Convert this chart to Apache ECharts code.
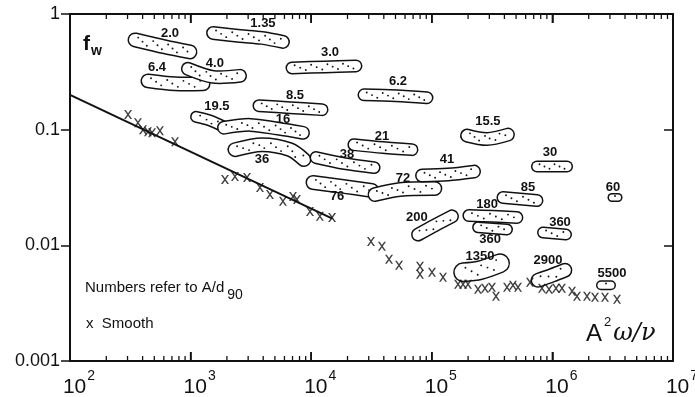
<!DOCTYPE html>
<html>
<head>
<meta charset="utf-8">
<script src="https://cdn.jsdelivr.net/npm/echarts@6/dist/echarts.min.js"></script>
<style>
  html, body { margin: 0; padding: 0; background: #fff; }
  #chart { width: 695px; height: 397px; }
</style>
</head>
<body>
<div id="chart"></div>
<script>
// smooth-bed points (x)
const crossX = [303, 366, 403, 443, 479, 557, 743, 1928, 2333, 2936, 3760, 4550, 5830, 7060, 7620, 9770, 11800, 14900,
  31300, 38600, 44200, 53500, 79800, 79800, 100400, 123900, 164900, 181500, 199600, 241500, 276000, 315500, 340600,
  420300, 471000, 518600, 651900, 819800, 937300, 1071000, 1201000, 1455000, 1600000, 1936000, 2256000, 2730000, 3435000];
const crossY = [0.135, 0.115, 0.100, 0.096, 0.094, 0.098, 0.0788, 0.0371, 0.0394, 0.0386, 0.0316, 0.0275, 0.0240, 0.0265, 0.0249, 0.0196, 0.0178, 0.0174,
  0.0108, 0.0098, 0.00757, 0.00672, 0.00659, 0.00562, 0.00585, 0.00530, 0.00461, 0.00461, 0.00461, 0.00418, 0.00426, 0.00434, 0.00363,
  0.00434, 0.00452, 0.00434, 0.00480, 0.00426, 0.00418, 0.00426, 0.00426, 0.00401, 0.00363, 0.00363, 0.00356, 0.00356, 0.00342];

// laminar line
const lineX = [100, 15000];
const lineY = [0.2, 0.017];

// rough-bed regions: spine points, labelled by A/d90
const blobNames = ['2.0', '1.35', '6.4', '4.0', '3.0', '6.2', '8.5', '19.5', '16', '36', '38', '21', '76', '72', '41',
  '15.5', '30', '85', '60', '200', '180', '360', '360', '1350', '2900', '5500'];
const blobXs = [
  [346, 614, 988],
  [1535, 2570, 3910, 5830],
  [443, 743, 1268],
  [950, 1535, 2570],
  [6930, 13000, 23500],
  [27400, 50500, 91200],
  [3690, 6670, 12300],
  [1110, 1450, 1890],
  [1890, 3110, 5310, 8550],
  [2333, 3910, 6670, 8710],
  [10970, 19000, 33200],
  [22600, 39400, 68500],
  [10350, 18400, 31900],
  [33800, 54500, 106000],
  [83000, 136000, 224000],
  [196000, 287000, 428000],
  [745000, 1322000],
  [389000, 745000],
  [3120000, 3500000],
  [76900, 106000, 147000],
  [203000, 321000, 508000],
  [242000, 420000],
  [836000, 1297000],
  [182000, 251000, 368000],
  [760000, 993000, 1270000],
  [2530000, 3060000]
];
const blobYs = [
  [0.597, 0.519, 0.470],
  [0.686, 0.646, 0.621, 0.574],
  [0.264, 0.249, 0.249],
  [0.336, 0.286, 0.292],
  [0.342, 0.349, 0.356],
  [0.200, 0.196, 0.189],
  [0.161, 0.155, 0.149],
  [0.129, 0.120, 0.106],
  [0.104, 0.110, 0.102, 0.094],
  [0.0672, 0.0742, 0.0672, 0.0551],
  [0.0574, 0.0509, 0.0470],
  [0.0742, 0.0700, 0.0672],
  [0.0349, 0.0323, 0.0298],
  [0.0275, 0.0304, 0.0310],
  [0.0401, 0.0409, 0.0434],
  [0.0888, 0.0830, 0.0906],
  [0.0480, 0.0480],
  [0.0259, 0.0244],
  [0.0259, 0.0259],
  [0.0124, 0.0149, 0.0178],
  [0.0181, 0.0178, 0.0174],
  [0.0143, 0.0137],
  [0.0129, 0.0124],
  [0.00585, 0.00609, 0.00700],
  [0.00499, 0.00551, 0.00609],
  [0.00452, 0.00452]
];
const labelX = [674, 3980, 526, 1590, 14300, 52500, 7340, 1650, 5830, 3910, 19800, 38600, 16400, 57700, 133700,
  292000, 955000, 628000, 3180000, 75300, 287000, 304000, 1156000, 251000, 920000, 3120000];
const labelY = [0.686, 0.836, 0.342, 0.371, 0.470, 0.259, 0.196, 0.158, 0.122, 0.0551, 0.0609, 0.0871, 0.0265, 0.0378, 0.0551,
  0.117, 0.0633, 0.0316, 0.0316, 0.0174, 0.0226, 0.0113, 0.0158, 0.00804, 0.00743, 0.00574];

// x-axis tick values: decades and 2..9 inside each decade
const majorTicks = [1e2, 1e3, 1e4, 1e5, 1e6, 1e7];
const minorTicks = [];
for (let e = 2; e < 7; e++) {
  for (let k = 2; k <= 9; k++) minorTicks.push(k * Math.pow(10, e));
}

const blobThick = [12, 11, 12, 11, 10, 10, 10, 9, 11, 12, 10, 10, 12, 12, 11, 11, 9, 10, 6, 11, 10, 9, 9, 17, 12, 7];
const INK = '#111';
const FONT = '"Liberation Sans", Arial, sans-serif';

const chart = echarts.init(document.getElementById('chart'));

function renderBlob(params, api) {
  const i = api.value(2);
  const pts = blobXs[i].map((x, j) => api.coord([x, blobYs[i][j]]));
  const w = blobThick[i];
  const children = [
    { type: 'polyline', shape: { points: pts, smooth: 0.3 },
      style: { stroke: INK, lineWidth: w + 3, fill: null, lineCap: 'round', lineJoin: 'round' } },
    { type: 'polyline', shape: { points: pts, smooth: 0.3 },
      style: { stroke: '#fff', lineWidth: w, fill: null, lineCap: 'round', lineJoin: 'round' } }
  ];
  // stipple
  let k = 0;
  for (let s = 0; s < pts.length - 1; s++) {
    const [x0, y0] = pts[s];
    const [x1, y1] = pts[s + 1];
    const len = Math.hypot(x1 - x0, y1 - y0) || 1;
    const n = Math.max(1, Math.floor(len / 5));
    const nx = -(y1 - y0) / len, ny = (x1 - x0) / len;
    for (let t = 0; t < n; t++) {
      const f = (t + 0.5) / n;
      const off = ((k % 3) - 1) * w * 0.25;
      children.push({ type: 'circle',
        shape: { cx: x0 + (x1 - x0) * f + nx * off, cy: y0 + (y1 - y0) * f + ny * off, r: 0.95 },
        style: { fill: INK } });
      k++;
    }
  }
  const lp = api.coord([labelX[i], labelY[i]]);
  children.push({ type: 'text',
    style: { text: blobNames[i], x: lp[0], y: lp[1], align: 'center', verticalAlign: 'middle',
      fontSize: 13, fontWeight: 'bold', fontFamily: FONT, fill: INK } });
  return { type: 'group', children };
}

const yFmt = (v) => {
  const e = Math.round(Math.log10(v));
  return e === 0 ? '1' : Math.pow(10, e).toFixed(-e);
};
const xFmt = (v) => '{b|10}{s|' + Math.round(Math.log10(v)) + '}';

function xAxisCfg(pos, label) {
  return {
    type: 'log', position: pos, min: 100, max: 1e7, interval: 1,
    axisLine: { show: true, onZero: false, lineStyle: { color: INK, width: 2 } },
    axisTick: { show: true, inside: true, length: 9, lineStyle: { color: INK, width: 1.5 } },
    splitLine: { show: false },
    axisLabel: label
  };
}
function yAxisCfg(pos, inside, label) {
  return {
    type: 'log', position: pos, min: 0.001, max: 1, interval: 1,
    axisLine: { show: true, onZero: false, lineStyle: { color: INK, width: 2 } },
    axisTick: { show: true, inside: inside, length: 9, lineStyle: { color: INK, width: 1.5 } },
    splitLine: { show: false },
    axisLabel: label
  };
}

const texts = [
  { type: 'text', left: 83, top: 34, style: {
    text: '{f|f}{w|w}', rich: {
      f: { fontSize: 21, fontFamily: FONT, fontWeight: 'bold', fill: INK, verticalAlign: 'top' },
      w: { fontSize: 14, fontFamily: FONT, fontWeight: 'bold', fill: INK, verticalAlign: 'bottom', padding: [10, 0, 0, 1] }
    } } },
  { type: 'text', left: 85, top: 280, style: {
    text: '{a|Numbers refer to A/d}{b|90}', rich: {
      a: { fontSize: 15, fontFamily: FONT, fill: INK, verticalAlign: 'top' },
      b: { fontSize: 14, fontFamily: FONT, fill: INK, verticalAlign: 'bottom', padding: [8, 0, 0, 3] }
    } } },
  { type: 'text', left: 86, top: 316, style: {
    text: 'x  Smooth', fontSize: 15, fontFamily: FONT, fill: INK } },
  { type: 'text', left: 586, top: 316, style: {
    text: '{a|A}{s|2}{g|ω/ν}', rich: {
      a: { fontSize: 24, fontFamily: FONT, fill: INK, verticalAlign: 'bottom', padding: [6, 0, 0, 0] },
      s: { fontSize: 13, fontFamily: FONT, fill: INK, verticalAlign: 'top', padding: [0, 2, 0, 2] },
      g: { fontSize: 24, fontFamily: '"DejaVu Serif", serif', fontStyle: 'italic', fill: INK, verticalAlign: 'bottom', padding: [6, 0, 0, 0] }
    } } }
];

const option = {
  animation: false,
  grid: { left: 70, right: 22, top: 14, bottom: 36, outerBoundsMode: 'none' },
  xAxis: [
    xAxisCfg('bottom', {
      formatter: xFmt, margin: 8, color: INK,
      rich: {
        b: { fontSize: 21, fontFamily: FONT, color: INK, verticalAlign: 'bottom', padding: [8, 0, 0, 18] },
        s: { fontSize: 14, fontFamily: FONT, color: INK, verticalAlign: 'top', padding: [0, 0, 0, 1] }
      }
    }),
    xAxisCfg('top', { show: false })
  ],
  yAxis: [
    yAxisCfg('left', false, { formatter: yFmt, margin: 10, fontSize: 18, fontFamily: FONT, color: INK }),
    yAxisCfg('right', true, { show: false })
  ],
  graphic: texts,
  series: [
    {
      name: 'Rough', type: 'custom', renderItem: renderBlob, silent: true, z: 2,
      encode: { x: 0, y: 1 },
      data: blobNames.map((n, i) => [blobXs[i][0], blobYs[i][0], i])
    },
    {
      name: 'laminar', type: 'line', symbol: 'none', z: 3,
      lineStyle: { color: INK, width: 2 },
      data: lineX.map((x, i) => [x, lineY[i]])
    },
    {
      name: 'Smooth', type: 'scatter', z: 4,
      symbol: 'path://M0,0L2.6,0L12,13L9.4,13ZM9.4,0L12,0L2.6,13L0,13Z',
      symbolSize: [8, 9],
      itemStyle: { color: INK },
      data: crossX.map((x, i) => [x, crossY[i]])
    }
  ]
};

chart.setOption(option);

// tick marks on top and bottom edges, placed through the x scale
function tickMarks() {
  const top = chart.convertToPixel({ yAxisIndex: 0 }, 1);
  const bottom = chart.convertToPixel({ yAxisIndex: 0 }, 0.001);
  const els = [];
  const add = (v, len) => {
    const x = chart.convertToPixel({ xAxisIndex: 0 }, v);
    [[bottom, -len], [top, len]].forEach(([y, d]) => {
      els.push({ type: 'line', z: 100, silent: true,
        shape: { x1: x, y1: y, x2: x, y2: y + d },
        style: { stroke: INK, lineWidth: len > 6 ? 1.5 : 1.3 } });
    });
  };
  majorTicks.forEach((v) => add(v, 9));
  minorTicks.forEach((v) => add(v, 5));
  return els;
}
chart.setOption({ graphic: texts.concat(tickMarks()) });

window.addEventListener('resize', () => {
  chart.resize();
  chart.setOption({ graphic: texts.concat(tickMarks()) });
});
</script>
</body>
</html>
